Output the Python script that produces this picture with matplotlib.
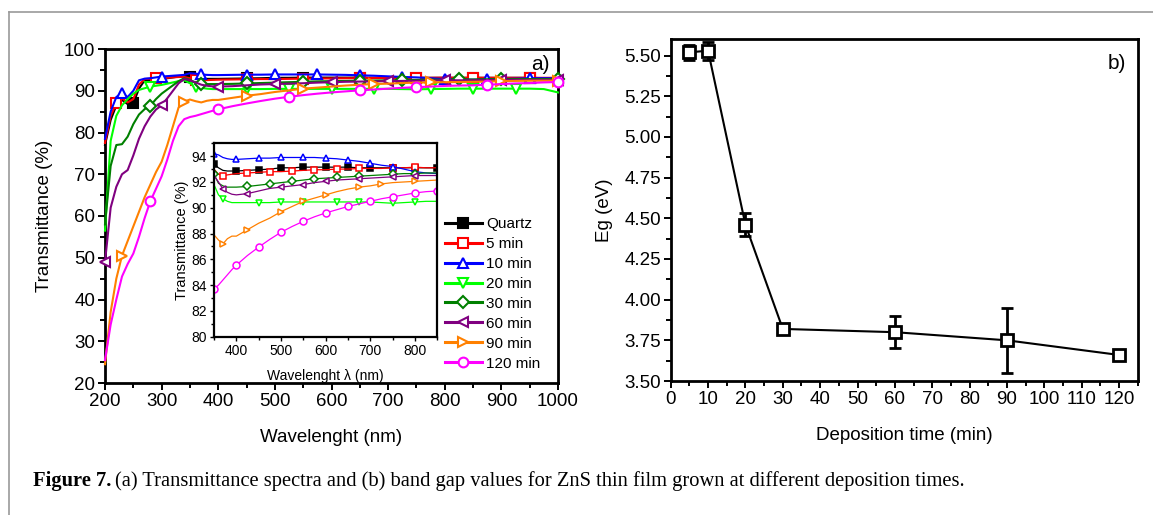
import matplotlib
matplotlib.use("Agg")
import matplotlib.pyplot as plt
from matplotlib.lines import Line2D
from matplotlib.ticker import MultipleLocator

plt.rcParams['font.family'] = ['Liberation Sans', 'DejaVu Sans']

# wavelength grid (nm)
wavelength = [200, 210, 220, 230, 240, 250, 260, 270, 280, 290, 300, 310, 320, 330, 340,
              350, 360, 370, 380, 390, 400, 425, 450, 475, 500, 525, 550, 575, 600, 625,
              650, 675, 700, 725, 750, 775, 800, 825, 850, 875, 900, 925, 950, 975, 1000]

# transmittance (%) of each sample
t_quartz = [77.0, 83.0, 86.5, 87.8, 86.8, 87.0, 90.5, 92.5, 92.6, 92.7, 92.8, 93.0, 93.2, 93.4, 93.5,
            93.4, 93.1, 92.9, 92.85, 92.85, 92.85, 92.9, 92.95, 93.0, 93.1, 93.1, 93.15, 93.15, 93.15, 93.15,
            93.15, 93.1, 93.1, 93.1, 93.1, 93.1, 93.1, 93.1, 93.1, 93.1, 93.1, 93.1, 93.1, 93.0, 93.0]
t_5 = [77.5, 84.0, 87.0, 88.2, 87.2, 88.0, 91.5, 92.8, 92.9, 93.0, 93.0, 93.1, 93.2, 93.3, 93.3,
       93.0, 92.6, 92.5, 92.55, 92.6, 92.65, 92.7, 92.75, 92.8, 92.8, 92.85, 92.9, 92.95, 92.95, 93.0,
       93.0, 93.05, 93.05, 93.05, 93.1, 93.1, 93.15, 93.1, 93.1, 93.1, 93.1, 93.1, 93.1, 93.1, 93.1]
t_10 = [78.5, 85.0, 88.5, 89.4, 88.5, 90.0, 92.5, 92.9, 93.0, 93.2, 93.4, 93.5, 93.6, 93.7, 93.8,
        94.2, 94.1, 93.9, 93.8, 93.75, 93.75, 93.8, 93.85, 93.85, 93.9, 93.9, 93.9, 93.9, 93.85, 93.8,
        93.7, 93.6, 93.45, 93.3, 93.2, 93.0, 92.8, 92.7, 92.65, 92.7, 92.8, 92.9, 93.0, 93.0, 93.0]
t_20 = [56.5, 78.0, 84.0, 86.5, 88.0, 89.3, 90.2, 90.6, 91.0, 91.2, 91.4, 91.7, 92.0, 92.3, 92.5,
        91.8, 91.0, 90.7, 90.5, 90.4, 90.4, 90.4, 90.4, 90.4, 90.45, 90.45, 90.45, 90.45, 90.45, 90.45,
        90.45, 90.45, 90.45, 90.4, 90.35, 90.4, 90.45, 90.5, 90.5, 90.5, 90.5, 90.5, 90.5, 90.4, 89.6]
t_30 = [58.0, 72.0, 77.0, 77.2, 79.0, 82.0, 84.3, 85.6, 86.4, 88.0, 89.3, 90.3, 91.3, 92.3, 93.0,
        92.6, 91.9, 91.7, 91.6, 91.6, 91.6, 91.65, 91.75, 91.85, 91.95, 92.05, 92.15, 92.25, 92.3, 92.35,
        92.4, 92.45, 92.5, 92.55, 92.6, 92.65, 92.65, 92.7, 92.7, 92.75, 92.8, 92.8, 92.8, 92.8, 92.8]
t_60 = [49.0, 62.0, 67.0, 70.0, 71.0, 74.5, 78.5, 81.5, 83.8, 85.5, 86.5, 88.2, 90.0, 91.8, 92.8,
        92.5, 92.0, 91.45, 91.2, 91.05, 91.0, 91.1, 91.3, 91.5, 91.6, 91.7, 91.8, 91.95, 92.05, 92.15,
        92.2, 92.25, 92.3, 92.35, 92.4, 92.45, 92.5, 92.5, 92.5, 92.55, 92.6, 92.6, 92.6, 92.6, 92.6]
t_90 = [24.5, 37.0, 45.0, 50.5, 54.0, 57.5, 61.0, 64.5, 67.5, 70.5, 73.0, 77.0, 81.5, 86.0, 87.4,
        87.9, 87.5, 87.2, 87.6, 87.8, 87.8, 88.3, 88.8, 89.2, 89.7, 90.1, 90.5, 90.75, 91.0, 91.25,
        91.45, 91.6, 91.7, 91.85, 91.95, 92.0, 92.05, 92.1, 92.15, 92.2, 92.3, 92.35, 92.4, 92.4, 92.4]
t_120 = [25.5, 34.0, 40.0, 45.5, 48.5, 51.0, 55.0, 59.5, 63.5, 66.5, 69.5, 73.5, 78.0, 81.5, 83.2,
         83.7, 84.0, 84.4, 84.8, 85.2, 85.55, 86.3, 86.95, 87.55, 88.1, 88.55, 88.95, 89.3, 89.6, 89.85,
         90.1, 90.3, 90.5, 90.7, 90.85, 91.0, 91.15, 91.25, 91.3, 91.45, 91.6, 91.75, 91.85, 92.0, 92.1]

series = [t_quartz, t_5, t_10, t_20, t_30, t_60, t_90, t_120]
labels = ['Quartz', '5 min', '10 min', '20 min', '30 min', '60 min', '90 min', '120 min']
colors = ['black', '#ff0000', '#0000ff', '#00ff00', '#008000', '#800080', '#ff8000', '#ff00ff']
markers = ['s', 's', '^', 'v', 'D', '<', '>', 'o']

# which points carry a symbol, in the full plot and in the inset
main_marks = [[5, 15, 22, 26, 30, 34, 38, 42],
              [2, 9, 16, 22, 26, 30, 34, 38, 42],
              [3, 10, 17, 22, 24, 27, 30, 33, 36, 39, 42],
              [8, 16, 22, 25, 28, 31, 35, 38, 41],
              [8, 17, 22, 26, 30, 33, 37, 40, 44],
              [0, 10, 20, 24, 28, 32, 36, 40, 44],
              [3, 14, 22, 26, 31, 35, 40, 44],
              [8, 20, 25, 30, 34, 39, 44]]
inset_marks = [[15, 20, 22, 24, 26, 28, 30, 32, 34, 36, 38],
               [17, 21, 23, 25, 27, 29, 31, 34, 36],
               [15, 20, 22, 24, 26, 28, 30, 32, 34, 36],
               [17, 22, 24, 26, 29, 31, 34, 36],
               [15, 21, 23, 25, 27, 29, 31, 34, 36],
               [17, 21, 24, 26, 28, 31, 34, 36],
               [17, 21, 24, 26, 28, 31, 33, 36],
               [15, 20, 22, 24, 26, 28, 30, 32, 34, 36, 38]]

# band gap vs deposition time
dep_time = [5, 10, 20, 30, 60, 90, 120]
eg = [5.52, 5.53, 4.46, 3.82, 3.80, 3.75, 3.66]
eg_err = [0.045, 0.055, 0.07, 0.01, 0.10, 0.20, 0.03]

W, H = 1153, 515
fig = plt.figure(figsize=(W / 100, H / 100), dpi=100)


def box(left, top, right, bottom):
    return [left / W, 1 - bottom / H, (right - left) / W, (bottom - top) / H]


def style(ax, lw, size, major, minor, tw):
    for s in ax.spines.values():
        s.set_linewidth(lw)
    ax.tick_params(which='both', direction='out', top=False, right=False, width=tw)
    ax.tick_params(which='major', length=major, labelsize=size, pad=2)
    ax.tick_params(which='minor', length=minor)


def face(i):
    return colors[i] if i == 0 else 'white'


# (a) transmittance spectra
ax1 = fig.add_axes(box(105, 49, 558, 383))
for i, t in enumerate(series):
    ax1.plot(wavelength, t, color=colors[i], lw=1.5, marker=markers[i],
             ms=6 if markers[i] == 'D' else 7, mfc=face(i), mec=colors[i], mew=1.5,
             markevery=main_marks[i], clip_on=False, zorder=2 + i)
ax1.set_xlim(200, 1000)
ax1.set_ylim(20, 100)
ax1.xaxis.set_major_locator(MultipleLocator(100))
ax1.xaxis.set_minor_locator(MultipleLocator(50))
ax1.yaxis.set_major_locator(MultipleLocator(10))
ax1.yaxis.set_minor_locator(MultipleLocator(5))
style(ax1, 2.0, 13.5, 5, 3.5, 1.4)
ax1.set_xlabel('Wavelenght (nm)', fontsize=13.5, labelpad=14)
ax1.set_ylabel('Transmittance (%)', fontsize=13.5, labelpad=8)
ax1.text(0.962, 0.955, 'a)', transform=ax1.transAxes, ha='center', va='center', fontsize=15)

handles = [Line2D([], [], color=colors[i], lw=2.2, marker=markers[i],
                  ms=6 if markers[i] == 'D' else 7, mfc=face(i), mec=colors[i], mew=1.5)
           for i in range(len(labels))]
ax1.legend(handles, labels, loc='upper left', bbox_to_anchor=(445 / W, 1 - 217 / H),
           bbox_transform=fig.transFigure, frameon=False, fontsize=11, borderpad=0,
           borderaxespad=0, handlelength=2.4, handletextpad=0.3, labelspacing=0.39)

# inset: zoom on the visible range
ins = fig.add_axes(box(214, 143.3, 437.3, 336.7))
ins.set_zorder(20)
for i, t in enumerate(series):
    ins.plot(wavelength, t, color=colors[i], lw=0.9, marker=markers[i],
             ms=4.5 if markers[i] == 'D' else 5, mfc=face(i), mec=colors[i], mew=1.1,
             markevery=inset_marks[i])
ins.set_xlim(350, 850)
ins.set_ylim(80, 95)
ins.xaxis.set_major_locator(MultipleLocator(100))
ins.xaxis.set_minor_locator(MultipleLocator(50))
ins.yaxis.set_minor_locator(MultipleLocator(1))
ins.set_yticks([80, 82, 84, 86, 88, 90, 92, 94])
style(ins, 1.6, 10, 3, 2, 1.0)
ins.set_xlabel('Wavelenght λ (nm)', fontsize=10, labelpad=8)
ins.set_ylabel('Transmittance (%)', fontsize=10.5, labelpad=2)

# (b) band gap
ax2 = fig.add_axes(box(670.7, 39.3, 1137.8, 381))
ax2.errorbar(dep_time, eg, yerr=eg_err, color='black', lw=1.5, marker='s', ms=8,
             mfc='white', mec='black', mew=2, ecolor='black', elinewidth=2,
             capsize=4.5, capthick=2, clip_on=False, zorder=3)
ax2.set_xlim(0, 125)
ax2.set_ylim(3.5, 5.6)
ax2.xaxis.set_major_locator(MultipleLocator(10))
ax2.xaxis.set_minor_locator(MultipleLocator(5))
ax2.yaxis.set_major_locator(MultipleLocator(0.25))
ax2.yaxis.set_minor_locator(MultipleLocator(0.125))
ax2.yaxis.set_major_formatter(matplotlib.ticker.FormatStrFormatter('%.2f'))
style(ax2, 2.0, 13.5, 5, 3.5, 1.4)
ax2.set_xlabel('Deposition time (min)', fontsize=13.5, labelpad=14)
ax2.set_ylabel('Eg (eV)', fontsize=13.5, labelpad=8)
ax2.text(0.955, 0.93, 'b)', transform=ax2.transAxes, ha='center', va='center', fontsize=15)

# page frame
frame_y = 1 - 12 / H
frame_x = 9 / W
fig.add_artist(Line2D([frame_x, 1], [frame_y, frame_y], color='#9a9a9a', lw=1.2))
fig.add_artist(Line2D([frame_x, frame_x], [0, frame_y], color='#9a9a9a', lw=1.2))

# caption
renderer = fig.canvas.get_renderer()
cap_y = 1 - 486 / H
head = fig.text(33 / W, cap_y, 'Figure 7.', family='Liberation Serif', fontweight='bold',
                fontsize=14.75, va='baseline')
x_end = head.get_window_extent(renderer).x1 / W
fig.text(x_end + 4 / W, cap_y,
         '(a) Transmittance spectra and (b) band gap values for ZnS thin film grown at '
         'different deposition times.',
         family='Liberation Serif', fontsize=14.75, va='baseline')

fig.savefig('out.png', dpi=100)
